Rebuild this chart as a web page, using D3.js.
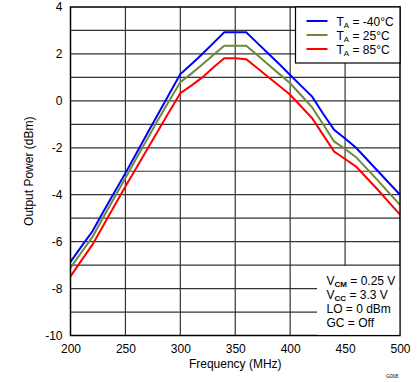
<!DOCTYPE html>
<html><head><meta charset="utf-8">
<script src="https://cdn.jsdelivr.net/npm/d3@7"></script>
<style>body{margin:0;background:#fff}svg{display:block}text{font-family:"Liberation Sans",Arial,sans-serif;fill:#000}</style>
</head><body><svg id="c" width="419" height="382"></svg>
<script>
const freqs = [200,210,220,230,240,250,260,270,280,290,300,310,320,330,340,350,360,370,380,390,400,410,420,430,440,450,460,470,480,490,500];
const tMinus40 = [-6.86,-6.2,-5.56,-4.72,-3.9,-3.08,-2.23,-1.38,-0.54,0.3,1.14,1.56,2.0,2.46,2.92,2.92,2.92,2.47,2.02,1.57,1.1,0.64,0.18,-0.55,-1.23,-1.6,-2.0,-2.5,-3.0,-3.5,-4.0];
const t25 = [-7.12,-6.45,-5.8,-4.95,-4.12,-3.29,-2.45,-1.62,-0.78,0.02,0.8,1.16,1.55,1.95,2.35,2.35,2.35,1.95,1.55,1.15,0.75,0.24,-0.28,-1.0,-1.73,-2.05,-2.4,-2.9,-3.4,-3.92,-4.43];
const t85 = [-7.48,-6.8,-6.13,-5.3,-4.47,-3.65,-2.85,-2.05,-1.25,-0.45,0.33,0.65,1.0,1.42,1.82,1.82,1.77,1.4,1.02,0.64,0.26,-0.24,-0.74,-1.45,-2.16,-2.48,-2.8,-3.3,-3.8,-4.33,-4.85];
const seriesNames = ["-40°C","25°C","85°C"];
const seriesColors = ["#0000ff","#6b8a3a","#ff0000"];
const xTicks = [200,250,300,350,400,450,500];
const yTicks = [-10,-8,-6,-4,-2,0,2,4];
const yGrid = [-9,-8,-7,-6,-5,-4,-3,-2,-1,0,1,2,3];
const notes = [["V","CM"," = 0.25 V"],["V","CC"," = 3.3 V"],["LO = 0 dBm","",""],["GC = Off","",""]];

const svg = d3.select("#c");
const L=70.5, R=400, T=7, B=335.5;
const x = d3.scaleLinear().domain([200,500]).range([L,R]);
const y = d3.scaleLinear().domain([-10,4]).range([B,T]);

// grid
svg.append("g").selectAll("line").data(xTicks.slice(1,-1)).join("line")
  .attr("x1",d=>x(d)).attr("x2",d=>x(d)).attr("y1",T).attr("y2",B)
  .attr("stroke","#333").attr("stroke-width",1.2);
svg.append("g").selectAll("line").data(yGrid).join("line")
  .attr("x1",L).attr("x2",R).attr("y1",d=>y(d)).attr("y2",d=>y(d))
  .attr("stroke","#333").attr("stroke-width",1.2);

// series
const all=[tMinus40,t25,t85];
const line = d3.line().x((d,i)=>x(freqs[i])).y(d=>y(d));
all.forEach((s,k)=>{
  svg.append("path").datum(s).attr("d",line).attr("fill","none")
   .attr("stroke",seriesColors[k]).attr("stroke-width",2);
});

// frame
svg.append("rect").attr("x",L).attr("y",T).attr("width",R-L).attr("height",B-T)
  .attr("fill","none").attr("stroke","#000").attr("stroke-width",1.5);

// axes labels
const xa = d3.axisBottom(x).tickValues(xTicks).tickSize(0).tickPadding(9);
const gx = svg.append("g").attr("transform",`translate(0,${B})`).call(xa);
gx.select(".domain").remove();
gx.selectAll("text").attr("font-size",12).style("font-family","Liberation Sans, Arial, sans-serif").attr("fill","#000");
const ya = d3.axisLeft(y).tickValues(yTicks).tickSize(0).tickPadding(8).tickFormat(d3.format("d"));
const gy = svg.append("g").attr("transform",`translate(${L},0)`).call(ya);
gy.select(".domain").remove();
gy.selectAll("text").attr("font-size",12).style("font-family","Liberation Sans, Arial, sans-serif").attr("fill","#000");
gy.selectAll("text").text(d=>d<0?"-"+Math.abs(d):d);

svg.append("text").attr("x",(L+R)/2).attr("y",368).attr("text-anchor","middle").attr("font-size",12).text("Frequency (MHz)");
svg.append("text").attr("transform",`translate(33,${(T+B)/2}) rotate(-90)`).attr("text-anchor","middle").attr("font-size",12).text("Output Power (dBm)");

// legend
const lg = svg.append("g");
lg.append("rect").attr("x",295.5).attr("y",T).attr("width",R-295.5).attr("height",56).attr("fill","#fff").attr("stroke","#000").attr("stroke-width",1.2);
seriesNames.forEach((n,i)=>{
  const yy = 21+i*14;
  lg.append("line").attr("x1",306.5).attr("x2",327.5).attr("y1",yy).attr("y2",yy).attr("stroke",seriesColors[i]).attr("stroke-width",2);
  const t = lg.append("text").attr("x",336.5).attr("y",yy+4.5).attr("font-size",12);
  t.append("tspan").text("T");
  t.append("tspan").attr("font-size",8).attr("dy",2).text("A");
  t.append("tspan").attr("dy",-2).text(" = "+n);
});

// annotation
svg.append("rect").attr("x",317).attr("y",266).attr("width",R-317-0.75).attr("height",B-266-0.75).attr("fill","#fff");
notes.forEach((n,i)=>{
  const t = svg.append("text").attr("x",326.5).attr("y",284.5+i*14.2).attr("font-size",12);
  t.append("tspan").text(n[0]);
  if(n[1]){
    t.append("tspan").attr("font-size",8).attr("font-weight","bold").attr("dy",2).text(n[1]);
    t.append("tspan").attr("dy",-2).text(n[2]);
  }
});

svg.append("text").attr("x",386).attr("y",378).attr("font-size",5).text("G008");
</script></body></html>
